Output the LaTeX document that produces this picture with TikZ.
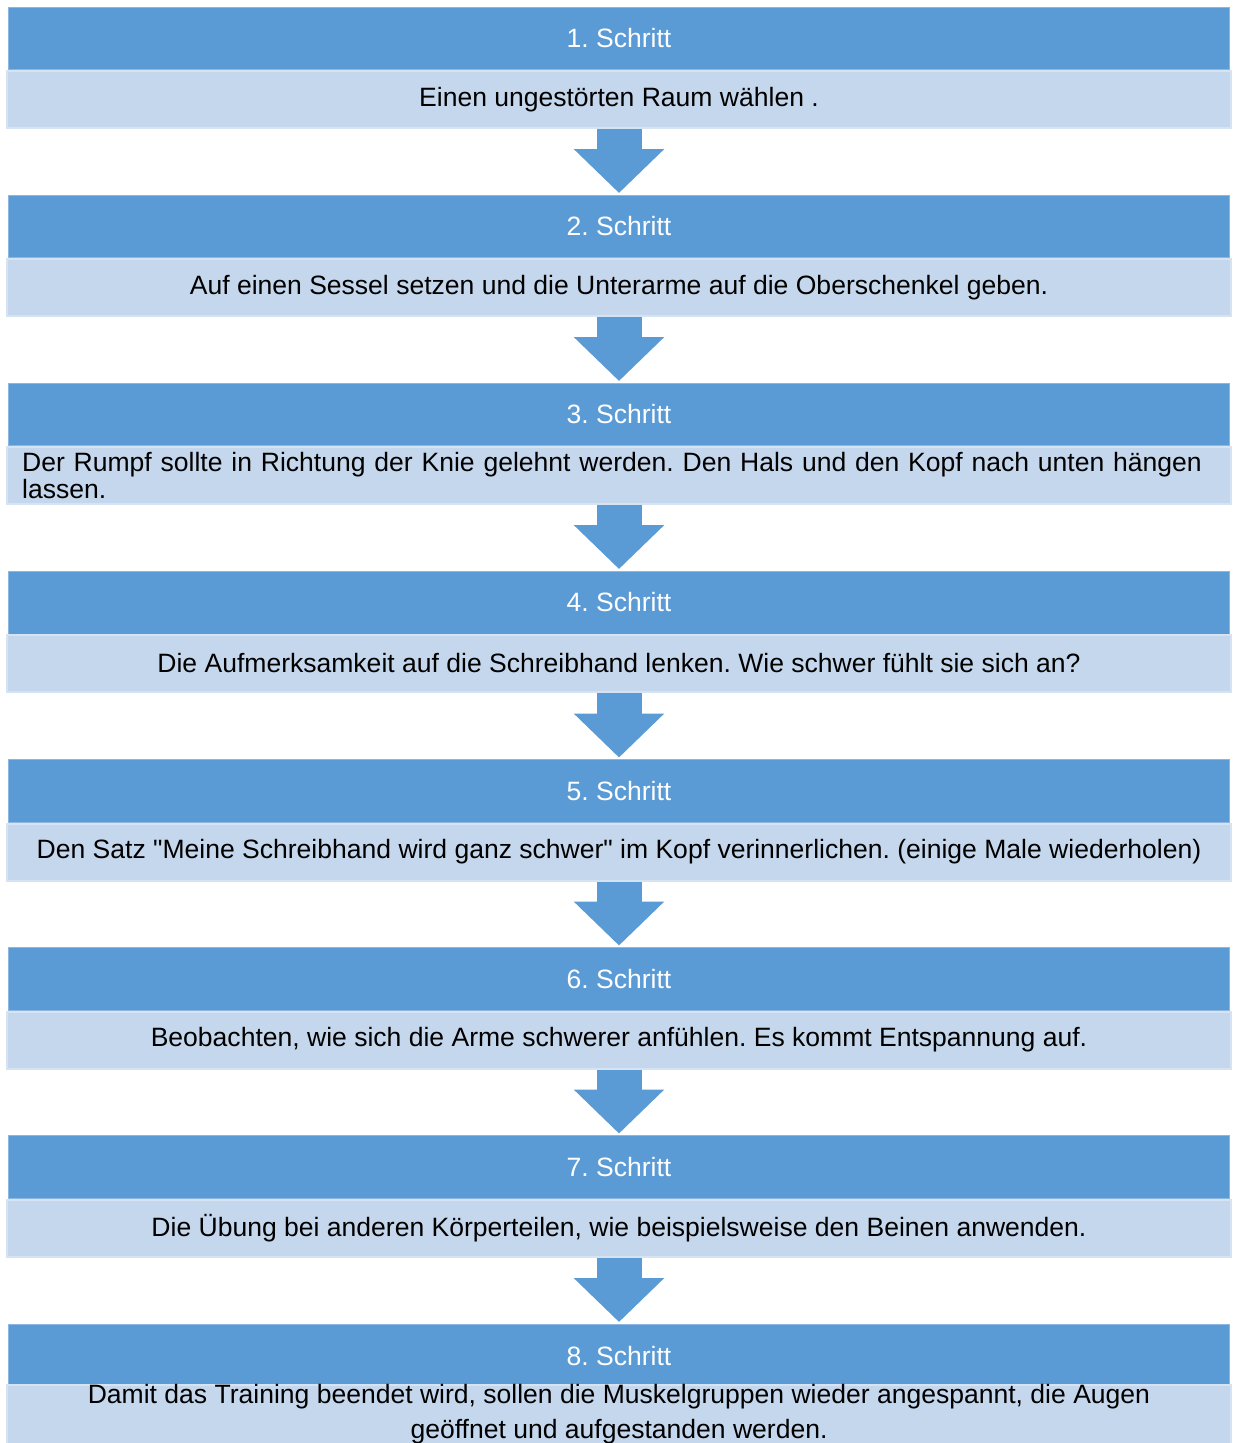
\documentclass[tikz,border=0pt]{standalone}
\usepackage{fontspec}
\setmainfont{Liberation Sans}
\usepackage{xcolor}
\usetikzlibrary{arrows.meta}
\frenchspacing

\definecolor{hdrblue}{HTML}{5B9BD5}
\definecolor{hdrline}{HTML}{8DB7E2}
\definecolor{boxblue}{HTML}{C5D7EC}
\definecolor{boxline}{HTML}{D6E3F2}

\begin{document}
\begin{tikzpicture}[x=0.02cm, y=-0.02cm,
    every node/.style={font=\fontsize{15.1}{15.3}\selectfont},
    header/.style={draw=hdrline, line width=0.02cm, fill=hdrblue, text=white, minimum width=24.44cm, minimum height=1.26cm, inner sep=0pt},
    detail/.style={draw=boxline, line width=0.04cm, fill=boxblue, text=black, minimum width=24.48cm, minimum height=1.14cm, inner sep=0pt, align=center},
    flowarrow/.style={draw=hdrblue, line width=0.9cm, shorten >=0.03cm, -{Triangle[length=0.88cm, width=1.76cm]}}]
          \useasboundingbox (0,0) rectangle (1234,1443);
          \clip (0,0) rectangle (1234,1443);

          \node[header] (h1) at (619, 38.5) {1. Schritt};
          \node[detail] (d1) at (619, 99.5) {Einen ungestörten Raum wählen .};

          \node[header] (h2) at (619, 226.5) {2. Schritt};
          \node[detail] (d2) at (619, 287.5) {Auf einen Sessel setzen und die Unterarme auf die Oberschenkel geben.};

          \node[header] (h3) at (619, 414.5) {3. Schritt};
          \node[detail, align=left, text width=23.88cm, inner xsep=0.3cm] (d3) at (619, 475.5) {
            Der Rumpf sollte in Richtung der Knie gelehnt werden. Den Hals und den Kopf nach unten hängen\\
            lassen.
          };

          \node[header] (h4) at (619, 602.5) {4. Schritt};
          \node[detail] (d4) at (619, 663.5) {Die Aufmerksamkeit auf die Schreibhand lenken. Wie schwer fühlt sie sich an?};

          \node[header] (h5) at (619, 791) {5. Schritt};
          \node[detail] (d5) at (619, 852) {Den Satz \textquotedbl Meine Schreibhand wird ganz schwer\textquotedbl{} im Kopf verinnerlichen. (einige Male wiederholen)};

          \node[header] (h6) at (619, 979) {6. Schritt};
          \node[detail] (d6) at (619, 1040) {Beobachten, wie sich die Arme schwerer anfühlen. Es kommt Entspannung auf.};

          \node[header] (h7) at (619, 1167) {7. Schritt};
          \node[detail] (d7) at (619, 1228) {Die Übung bei anderen Körperteilen, wie beispielsweise den Beinen anwenden.};

          \node[header] (h8) at (619, 1355.5) {8. Schritt};
          \node[detail, minimum height=1.1cm, font=\fontsize{15.1}{19.8}\selectfont] (d8) at (619, 1414.5) {
            Damit das Training beendet wird, sollen die Muskelgruppen wieder angespannt, die Augen\\
            geöffnet und aufgestanden werden.
          };

          \draw[flowarrow] (d1) -- (h2);
          \draw[flowarrow] (d2) -- (h3);
          \draw[flowarrow] (d3) -- (h4);
          \draw[flowarrow] (d4) -- (h5);
          \draw[flowarrow] (d5) -- (h6);
          \draw[flowarrow] (d6) -- (h7);
          \draw[flowarrow] (d7) -- (h8);
        \end{tikzpicture}
\end{document}
